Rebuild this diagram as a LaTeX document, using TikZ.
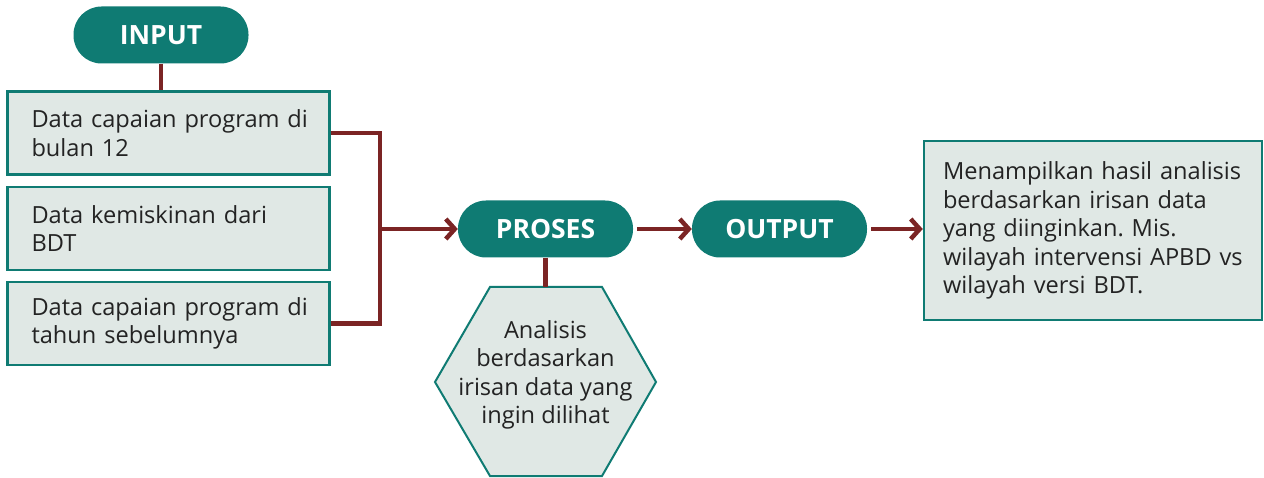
\documentclass[tikz,border=0pt]{standalone}
\usepackage{fontspec}
\setmainfont{Open Sans}
\usetikzlibrary{arrows.meta}
\frenchspacing
\definecolor{teal1}{RGB}{15,123,115}
\definecolor{paleg}{RGB}{224,232,229}
\definecolor{wine}{RGB}{123,36,36}
\definecolor{txt}{RGB}{35,35,35}
\tikzset{
  pill/.style={rectangle, rounded corners=28pt, fill=teal1, text=white,
    minimum width=175pt, minimum height=57pt, inner sep=0pt,
    font=\fontsize{26.5}{30}\selectfont\bfseries},
  inbox/.style={rectangle, draw=teal1, line width=2.5pt, fill=paleg, text=txt,
    minimum height=83pt, text width=274pt, inner xsep=24pt, inner ysep=0pt, align=left,
    font=\fontsize{23.6}{28.5}\selectfont},
  conn/.style={draw=wine, line width=4.5pt},
  arr/.style={conn, -{Straight Barb[length=9pt,width=20pt]}},
}
\begin{document}
\begin{tikzpicture}[x=1pt,y=-1pt]
\useasboundingbox (0,0) rectangle (1264,478);
\node[pill] (input) at (161,35) {INPUT};
\node[inbox] (b1) at (168.5,133) {\mbox{Data capaian program di}\\\mbox{bulan 12}};
\node[inbox] (b2) at (168.5,228.5) {\mbox{Data kemiskinan dari}\\\mbox{BDT}};
\node[inbox] (b3) at (168.5,323.5) {\mbox{Data capaian program di}\\\mbox{tahun sebelumnya}};
\node[pill] (proses) at (545.5,229) {PROSES};
\node[pill] (output) at (779.5,229) {OUTPUT};
\node[rectangle, draw=teal1, line width=2.5pt, fill=paleg, text=txt,
  minimum height=179pt, text width=300pt, inner xsep=19pt, align=left,
  font=\fontsize{23.6}{28.5}\selectfont] (res) at (1093,230.5)
  {\mbox{Menampilkan hasil analisis}\\\mbox{berdasarkan irisan data}\\\mbox{yang diinginkan. Mis.}\\\mbox{wilayah intervensi APBD vs}\\\mbox{wilayah versi BDT.}};
% hexagon
\coordinate (h1) at (490,287);
\coordinate (h2) at (602,287);
\coordinate (h3) at (656,382);
\coordinate (h4) at (602,476);
\coordinate (h5) at (490,476);
\coordinate (h6) at (435,382);
\coordinate (htop) at (545.5,287);
\draw[teal1, line width=2pt, fill=paleg, line join=miter] (h1) -- (h2) -- (h3) -- (h4) -- (h5) -- (h6) -- cycle;
\node[text=txt, align=center, font=\fontsize{23.6}{28.5}\selectfont] (hex) at (545.5,375)
  {Analisis\\berdasarkan\\irisan data yang\\ingin dilihat};
% connectors
\draw[conn] (input.south) -- (b1.north -| input.south);
\draw[conn] (proses.south) -- (htop);
\coordinate (j) at (380,229);
\draw[conn] (b1.east) -| (j) |- (b3.east);
\draw[arr] (j) -- (proses.west);
\draw[arr] (proses.east) ++(4,0) coordinate (pe) -- (output.west);
\draw[arr] (output.east) ++(4,0) coordinate (oe) -- (oe -| res.west);
\end{tikzpicture}
\end{document}
